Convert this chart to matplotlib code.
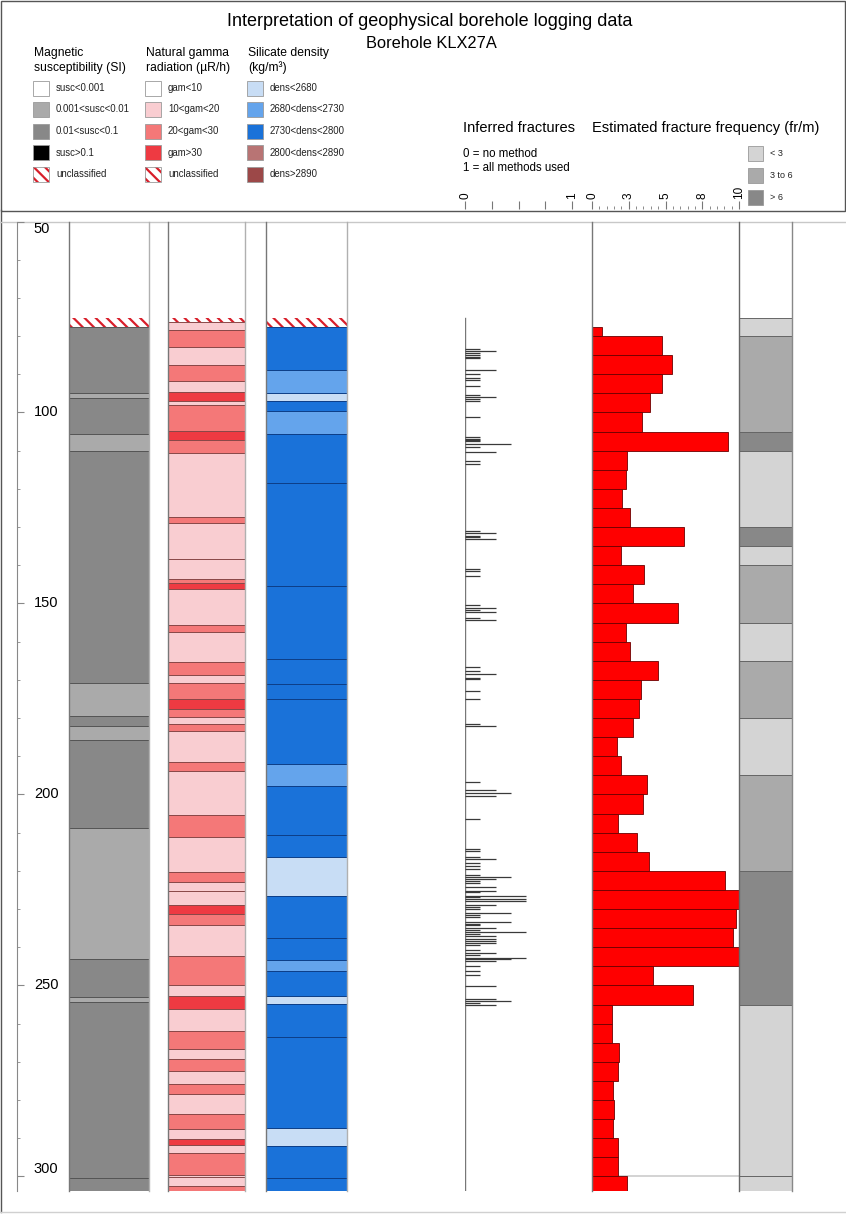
import numpy as np
import matplotlib
matplotlib.use('Agg')
import matplotlib.pyplot as plt
from matplotlib.patches import Rectangle

plt.rcParams['font.family'] = ['Liberation Sans', 'DejaVu Sans']
plt.rcParams['hatch.linewidth'] = 1.6

# ---- data (depth in m) ----
# magnetic susceptibility: 'u' unclassified, 0 <0.001, 1 0.001-0.01, 2 0.01-0.1, 3 >0.1
mag_edges = [75.2, 77.5, 94.8, 96.1, 105.7, 110.2, 170.9, 179.4, 182.2, 185.7,
             208.7, 243.0, 252.9, 254.3, 300.5, 303.8]
mag_class = ['u', 2, 1, 2, 1, 2, 1, 2, 1, 2, 1, 2, 1, 2, 2]

# natural gamma: 'u', 0 <10, 1 10-20, 2 20-30, 3 >30
gam_edges = [75.2, 76.3, 78.4, 82.9, 87.6, 91.8, 94.6, 96.9, 98.1, 104.9, 107.1,
             110.6, 127.3, 128.8, 138.4, 143.7, 144.6, 146.1, 155.7, 157.5, 165.4,
             168.6, 170.8, 175.1, 177.7, 179.8, 181.6, 183.3, 191.6, 193.9, 205.3,
             211.2, 220.4, 222.8, 225.3, 228.9, 231.3, 234.1, 242.3, 249.8, 252.7,
             256.1, 262.0, 266.6, 269.3, 272.3, 275.9, 278.4, 283.6, 287.5, 290.1,
             291.8, 293.9, 299.7, 300.2, 302.6, 303.8]
gam_class = ['u', 1, 2, 1, 2, 1, 3, 1, 2, 3,
             2, 1, 2, 1, 1, 2, 3, 1, 2, 1,
             2, 1, 2, 3, 2, 1, 2, 1, 2, 1,
             2, 1, 2, 1, 1, 3, 2, 1, 2, 1,
             3, 1, 2, 1, 2, 1, 2, 1, 2, 1,
             3, 1, 2, 1, 1, 2]

# silicate density: 'u', 0 <2680, 1 2680-2730, 2 2730-2800, 3 2800-2890, 4 >2890
dens_edges = [75.2, 77.5, 88.8, 94.8, 97.1, 99.6, 105.6, 118.4, 145.4, 164.6,
              171.1, 175.1, 192.0, 197.7, 210.6, 216.3, 226.6, 237.5, 243.4, 246.3,
              252.7, 254.8, 263.4, 287.2, 292.0, 300.5, 303.8]
dens_class = ['u', 2, 1, 0, 2, 1, 2, 2, 2, 2,
              2, 2, 1, 2, 2, 0, 2, 2, 1, 2,
              0, 2, 2, 0, 2, 2]

# inferred fractures: depth and number of methods (of 7)
frac_depth = [83.3, 83.8, 84.3, 84.9, 85.4, 85.7, 89.0, 90.0, 91.0, 91.4, 93.1, 95.3,
              95.9, 96.4, 97.0, 101.1, 106.5, 106.9, 107.2, 107.5, 108.2, 109.0, 110.3,
              112.8, 113.4, 131.1, 131.6, 132.3, 132.6, 133.0, 141.0, 141.5, 142.8,
              150.5, 151.2, 151.7, 152.3, 153.8, 154.3, 166.7, 167.7, 168.4, 169.6,
              169.8, 172.8, 174.9, 181.5, 182.2, 196.6, 198.7, 199.5, 200.5, 206.4,
              214.2, 214.9, 216.3, 216.9, 218.0, 218.7, 219.5, 221.0, 221.7, 222.2,
              222.7, 223.2, 224.1, 225.2, 225.6, 226.5, 226.9, 227.4, 228.0, 228.9,
              229.4, 229.9, 231.0, 231.6, 232.2, 233.4, 233.8, 234.2, 234.9, 235.5,
              236.1, 236.5, 237.1, 237.8, 238.3, 238.8, 239.5, 240.7, 241.5, 242.1,
              242.7, 243.1, 243.6, 244.9, 246.1, 247.3, 250.1, 253.6, 254.1, 254.6,
              255.2]
frac_n = [1, 2, 1, 1, 1, 1, 2, 1, 1, 1, 1, 1,
          2, 1, 1, 1, 1, 1, 1, 1, 3, 1, 2,
          1, 1, 1, 2, 1, 1, 2, 1, 1, 1,
          1, 2, 1, 2, 1, 2, 1, 1, 2, 1,
          1, 1, 1, 1, 2, 1, 2, 3, 2, 1,
          1, 1, 1, 2, 1, 1, 1, 1, 3, 2,
          1, 1, 2, 2, 1, 4, 1, 4, 4, 2,
          1, 1, 3, 1, 1, 3, 1, 1, 2, 1,
          4, 1, 2, 2, 2, 2, 1, 1, 2, 1,
          4, 3, 2, 1, 1, 1, 2, 2, 3, 1,
          2]
n_methods = 7

# estimated fracture frequency (fr/m) per interval
freq_edges = [77.5, 80, 85, 90, 95, 100, 105, 110, 115, 120, 125, 130, 135, 140,
              145, 150, 155, 160, 165, 170, 175, 180, 185, 190, 195, 200, 205, 210,
              215, 220, 225, 230, 235, 240, 245, 250, 255, 260, 265, 270, 275, 280,
              285, 290, 295, 300, 303.8]
freq_vals = [0.7, 4.75, 5.43, 4.75, 3.96, 3.37, 9.26, 2.39, 2.32, 2.07, 2.6, 6.29,
             2.0, 3.57, 2.76, 5.86, 2.32, 2.57, 4.5, 3.3, 3.21, 2.82, 1.71, 1.94,
             3.73, 3.46, 1.8, 3.07, 3.86, 9.06, 10.0, 9.8, 9.56, 10.0, 4.14, 6.9,
             1.37, 1.37, 1.82, 1.78, 1.46, 1.5, 1.44, 1.76, 1.78, 2.41]

# fracture frequency class: 0 <3, 1 3-6, 2 >6
fcls_edges = [75.2, 80, 105, 110, 130, 135, 140, 155, 165, 180, 195, 220, 255, 300, 303.8]
fcls_class = [0, 1, 2, 0, 2, 0, 1, 0, 1, 0, 1, 2, 0, 0]

mag_colors = ['#ffffff', '#aaaaaa', '#888888', '#000000']
gam_colors = ['#ffffff', '#f9cdd1', '#f47878', '#ee3a42']
dens_colors = ['#c8ddf5', '#64a4ec', '#1a72d9', '#b87474', '#9c4848']
fcls_colors = ['#d4d4d4', '#aaaaaa', '#888888']

mag_labels = ['susc<0.001', '0.001<susc<0.01', '0.01<susc<0.1', 'susc>0.1', 'unclassified']
gam_labels = ['gam<10', '10<gam<20', '20<gam<30', 'gam>30', 'unclassified']
dens_labels = ['dens<2680', '2680<dens<2730', '2730<dens<2800', '2800<dens<2890', 'dens>2890']
fcls_labels = ['< 3', '3 to 6', '> 6']

depth_major = [50, 100, 150, 200, 250, 300]
depth_minor = list(range(50, 301, 10))
HATCH_RED = '#d81e2a'
HATCH = '\\\\\\'

# ---- layout ----
W, H = 846, 1214
TOP_PX, BOT_PX = 221.5, 1191
fig = plt.figure(figsize=(W / 100, H / 100), dpi=100)


def px_axes(x0, x1, y0=TOP_PX, y1=BOT_PX):
    return fig.add_axes([x0 / W, 1 - y1 / H, (x1 - x0) / W, (y1 - y0) / H])


# background / header in pixel coordinates
bg = fig.add_axes([0, 0, 1, 1], zorder=-5)
bg.set_xlim(0, W)
bg.set_ylim(H, 0)
bg.axis('off')
bg.add_patch(Rectangle((0.5, 0.5), W - 1.5, 210, fill=False, ec='#555555', lw=1.0))
bg.plot([0.5, 0.5], [210, 1212], color='#555555', lw=1.0)
bg.plot([0, W], [222, 222], color='#c8c8c8', lw=1.0)
bg.plot([0, W], [1212, 1212], color='#d0d0d0', lw=1.0)

bg.text(430, 22, 'Interpretation of geophysical borehole logging data', fontsize=13,
        ha='center', va='center')
bg.text(431, 43, 'Borehole KLX27A', fontsize=11.8, ha='center', va='center')

leg_groups = [
    (34, ['Magnetic', 'susceptibility (SI)'], mag_labels, mag_colors),
    (146, ['Natural gamma', 'radiation (\u00b5R/h)'], gam_labels, gam_colors),
    (248, ['Silicate density', '(kg/m\u00b3)'], dens_labels, dens_colors),
]
row_y = [88, 109.5, 131, 152.5, 174]
for x0, title, labels, colors in leg_groups:
    bg.text(x0, 53, title[0], fontsize=8.7, va='center')
    bg.text(x0, 68, title[1], fontsize=8.7, va='center')
    for i, (lab, y) in enumerate(zip(labels, row_y)):
        if i < len(colors):
            bg.add_patch(Rectangle((x0 - 1, y - 7.5), 16, 15, fc=colors[i], ec='#9a9a9a', lw=0.6))
        else:
            bg.add_patch(Rectangle((x0 - 1, y - 7.5), 16, 15, fc='white', ec=HATCH_RED,
                                   hatch=HATCH, lw=0))
            bg.add_patch(Rectangle((x0 - 1, y - 7.5), 16, 15, fill=False, ec='#9a9a9a', lw=0.6))
        bg.text(x0 + 22, y, lab, fontsize=6.9, va='center', color='#222222')

bg.text(463, 128, 'Inferred fractures', fontsize=10.5, va='center')
bg.text(592, 128, 'Estimated fracture frequency (fr/m)', fontsize=10.5, va='center')
bg.text(463, 154, '0 = no method', fontsize=8.3, va='center')
bg.text(463, 168, '1 = all methods used', fontsize=8.3, va='center')
for i, (lab, y) in enumerate(zip(fcls_labels, [153, 175, 197])):
    bg.add_patch(Rectangle((748, y - 7.5), 15, 15, fc=fcls_colors[i], ec='#999999', lw=0.6))
    bg.text(770, y, lab, fontsize=6.5, va='center', color='#222222')


def style_column(ax, xlim=(0, 1)):
    ax.set_ylim(303.8, 50)
    ax.set_xlim(*xlim)
    ax.set_xticks([])
    ax.set_yticks([])
    ax.patch.set_alpha(0)
    for s in ['top', 'bottom']:
        ax.spines[s].set_visible(False)
    ax.spines['left'].set_color('#777777')
    ax.spines['right'].set_color('#b0b0b0')
    ax.spines['left'].set_linewidth(1.0)
    ax.spines['right'].set_linewidth(1.0)


def draw_column(ax, edges, classes, colors, edge_col):
    edges = np.array(edges)
    tops, thick = edges[:-1], np.diff(edges)
    for top, th, c in zip(tops, thick, classes):
        if c == 'u':
            ax.barh(top, 1, height=th, left=0, align='edge', color='white',
                    edgecolor=HATCH_RED, hatch=HATCH, linewidth=0)
        else:
            ax.barh(top, 1, height=th, left=0, align='edge', color=colors[c],
                    edgecolor=edge_col, linewidth=0.7)


# depth axis
dax = px_axes(17, 57)
dax.set_ylim(303.8, 50)
dax.set_xlim(0, 1)
for s in ['top', 'bottom', 'right']:
    dax.spines[s].set_visible(False)
dax.spines['left'].set_color('#888888')
dax.set_xticks([])
dax.set_yticks(depth_major)
dax.set_yticks(depth_minor, minor=True)
dax.tick_params(axis='y', which='major', direction='in', length=5, color='#888888',
                labelleft=False)
dax.tick_params(axis='y', which='minor', direction='in', length=2.5, color='#888888')
dax.patch.set_alpha(0)
for d in depth_major:
    va = 'top' if d == depth_major[0] else ('bottom' if d == depth_major[-1] else 'center')
    dax.text(0.42, d, str(d), fontsize=10.5, va=va, ha='left',
             transform=dax.get_yaxis_transform())

# log columns
ax_mag = px_axes(69, 149)
style_column(ax_mag)
draw_column(ax_mag, mag_edges, mag_class, mag_colors, '#555555')

ax_gam = px_axes(168, 245)
style_column(ax_gam)
draw_column(ax_gam, gam_edges, gam_class, gam_colors, '#8a4848')

ax_dens = px_axes(266, 347)
style_column(ax_dens)
draw_column(ax_dens, dens_edges, dens_class, dens_colors, '#0d3f88')

# inferred fractures
ax_fr = px_axes(465, 572)
ax_fr.set_ylim(303.8, 50)
ax_fr.set_xlim(0, 1)
ax_fr.axis('off')
ax_fr.plot([0, 0], [frac_depth[0] - 8.1, 303.8], color='#777777', lw=1.0)
ax_fr.hlines(frac_depth, 0, np.array(frac_n) / n_methods, color='#3a3a3a', lw=0.9)

# fracture frequency bars
ax_fq = px_axes(592, 739)
style_column(ax_fq, (0, 10))
ax_fq.spines['right'].set_visible(False)
fe = np.array(freq_edges)
ax_fq.barh(fe[:-1], freq_vals, height=np.diff(fe), align='edge', color='#ff0000',
           edgecolor='#6b0000', linewidth=0.6, clip_on=True)
ax_fq.axhline(fe[-2], color='#cccccc', lw=1.2, zorder=0)

# fracture frequency classes
ax_fc = px_axes(739, 792)
style_column(ax_fc)
ax_fc.spines['left'].set_color('#666666')
ax_fc.spines['right'].set_color('#888888')
draw_column(ax_fc, fcls_edges, fcls_class, fcls_colors, '#666666')

# top scales in the header
sy = 1 - 210 / H
s1 = fig.add_axes([465 / W, sy, 107 / W, 0.0005])
s2 = fig.add_axes([592 / W, sy, 147 / W, 0.0005])
for s, lim in [(s1, (0, 1)), (s2, (0, 10))]:
    s.set_xlim(*lim)
    s.set_yticks([])
    s.patch.set_alpha(0)
    for sp in s.spines.values():
        sp.set_visible(False)
    s.tick_params(axis='x', which='both', top=True, bottom=False, labeltop=True,
                  labelbottom=False, direction='out', color='#777777', labelrotation=90,
                  labelsize=8.5, pad=1.5)
s1.set_xticks([0, 0.25, 0.5, 0.75, 1])
s1.set_xticklabels(['0', '', '', '', '1'])
s1.tick_params(axis='x', length=6)
s2.set_xticks([0, 2.5, 5, 7.5, 10])
s2.set_xticklabels(['0', '3', '5', '8', '10'])
s2.set_xticks(np.arange(0, 10.01, 0.5), minor=True)
s2.tick_params(axis='x', which='major', length=6)
s2.tick_params(axis='x', which='minor', length=2.2)

fig.savefig('out.png', dpi=100)
